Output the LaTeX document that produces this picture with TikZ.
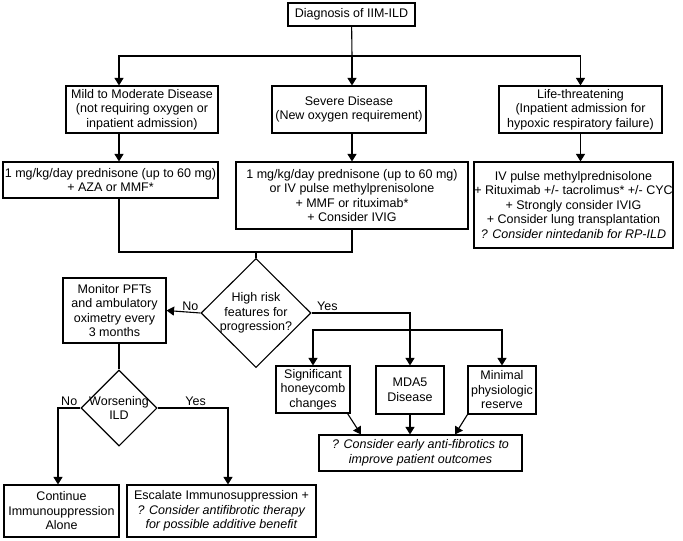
\documentclass[tikz,border=0pt]{standalone}
\usepackage{fontspec}
\setmainfont{Liberation Sans}
\usepackage{tikz}
\usetikzlibrary{arrows.meta,shapes.geometric,calc}
\newcommand{\mylw}{1.1pt}
\newcommand{\myfont}{\fontsize{12.5}{14.5}\selectfont}
\tikzset{
    node style box/.style={draw,rectangle,align=center,inner sep=0pt,line width=\mylw,font=\myfont},
    node style dec/.style={draw,diamond,align=center,inner sep=-3pt,line width=\mylw,font=\myfont},
    arrow style lbl/.style={above,inner sep=1.5pt,font=\myfont},
}

\begin{document}
\begin{tikzpicture}[>={Triangle[length=7.5pt,width=9pt]},x=1pt,y=-1pt,line width=\mylw]
  \useasboundingbox (0,0) rectangle (683,541);
  \node (diag) [node style box,minimum width=127pt,minimum height=23pt] at (351.5,14.5) {Diagnosis of IIM-ILD};

  \node (mild) [node style box,minimum width=152pt,minimum height=47pt] at (142,109.5)
    {Mild to Moderate Disease\\(not requiring oxygen or\\inpatient admission)};
  \node (severe) [node style box,minimum width=154pt,minimum height=47pt] at (349,109.5)
    {Severe Disease\\(New oxygen requirement)};
  \node (life) [node style box,minimum width=163pt,minimum height=47pt] at (580.5,109.5)
    {Life-threatening\\(Inpatient admission for\\hypoxic respiratory failure)};

  \node (mildrx) [node style box,minimum width=215pt,minimum height=36pt] at (110.5,180)
    {1 mg/kg/day prednisone (up to 60 mg)\\+ AZA or MMF*};
  \node (severerx) [node style box,minimum width=232pt,minimum height=67pt] at (352,195.5)
    {1 mg/kg/day prednisone (up to 60 mg)\\or IV pulse methylprenisolone\\+ MMF or rituximab*\\+ Consider IVIG};
  \node (liferx) [node style box,minimum width=199pt,minimum height=86pt] at (573.5,205)
    {IV pulse methylprednisolone\\+ Rituximab +/- tacrolimus* +/- CYC\\+ Strongly consider IVIG\\+ Consider lung transplantation\\\textit{? Consider nintedanib for RP-ILD}};

  \node (risk) [node style dec,minimum width=110pt,minimum height=109pt] at (256,313)
    {High risk\\features for\\progression?};
  \node (monitor) [node style box,minimum width=103pt,minimum height=65pt] at (114.5,310.5)
    {Monitor PFTs\\and ambulatory\\oximetry every\\3 months};
  \node (worse) [node style dec,minimum width=76pt,minimum height=76pt] at (119,408) {Worsening\\ILD};
  \node (cont) [node style box,minimum width=115pt,minimum height=52pt] at (61.5,511)
    {Continue\\Immunouppression\\Alone};
  \node (escal) [node style box,minimum width=189pt,minimum height=52pt] at (221.5,511)
    {Escalate Immunosuppression +\\\textit{? Consider antifibrotic therapy}\\\textit{for possible additive benefit}};

  \node (honey) [node style box,minimum width=74pt,minimum height=47pt] at (313,389.5)
    {Significant\\honeycomb\\changes};
  \node (mda5) [node style box,minimum width=68pt,minimum height=48pt] at (410,390) {MDA5\\Disease};
  \node (minimal) [node style box,minimum width=68pt,minimum height=48pt] at (502,390)
    {Minimal\\physiologic\\reserve};
  \node (early) [node style box,minimum width=203pt,minimum height=36pt] at (420.5,453)
    {\textit{? Consider early anti-fibrotics to}\\\textit{improve patient outcomes}};

  \coordinate (top) at (352,56);
  \coordinate (join) at (256,252);
  \coordinate (bar) at (410,330);

  \draw (diag) -- (top);
  \draw[->] (top) -| ([xshift=-23pt]mild.north);
  \draw[->] (top) -- (top |- severe.north);
  \draw[->] (top) -| (life.north);
  \draw[->] ([xshift=-23pt]mild.south) -- ([xshift=-23pt]mild.south |- mildrx.north);
  \draw[->] (top |- severe.south) -- (top |- severerx.north);
  \draw[->] (life.south) -- (life.south |- liferx.north);
  \draw ([xshift=8.5pt]mildrx.south) |- (join) -| (severerx.south);
  \draw (join) -- (risk.north);

  \draw[->] (risk.west) -- (monitor.east) node[arrow style lbl,pos=0.3] {No};
  \draw[->] (risk.east) -| (mda5.north) node[arrow style lbl,pos=0.08] {Yes};
  \draw[->] (bar) -| (honey.north);
  \draw[->] (bar) -| (minimal.north);
  \draw[->] ([xshift=-3pt]honey.south east) -- ([xshift=-59.5pt]early.north);
  \draw[->] (mda5.south) -- (mda5.south |- early.north);
  \draw[->] (minimal.south west) -- ([xshift=34.5pt]early.north);

  \draw (worse.north |- monitor.south) -- (worse.north);
  \draw[->] (worse.west) -| ([xshift=-3.5pt]cont.north) node[arrow style lbl,pos=0.25] {No};
  \draw[->] (worse.east) -| ([xshift=6.5pt]escal.north) node[arrow style lbl,pos=0.27] {Yes};
\end{tikzpicture}
\end{document}
